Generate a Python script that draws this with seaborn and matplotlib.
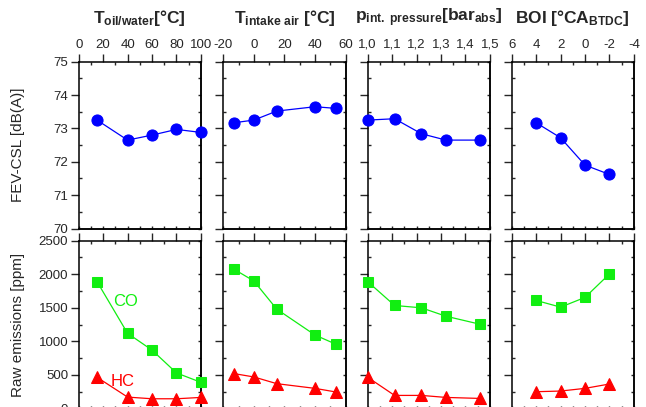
import matplotlib
matplotlib.use("Agg")
import matplotlib.pyplot as plt
import seaborn as sns
from matplotlib.ticker import MultipleLocator, FuncFormatter

# data
t_oil = [15, 40, 60, 80, 100]
fev_oil = [73.25, 72.65, 72.8, 72.97, 72.88]
co_oil = [1890, 1120, 870, 530, 390]
hc_oil = [465, 170, 145, 145, 165]

t_air = [-13, 0, 15, 40, 54]
fev_air = [73.17, 73.25, 73.52, 73.65, 73.6]
co_air = [2075, 1900, 1480, 1095, 955]
hc_air = [520, 470, 370, 300, 245]

p_int = [1.0, 1.11, 1.22, 1.32, 1.46]
fev_p = [73.25, 73.29, 72.84, 72.65, 72.65]
co_p = [1890, 1535, 1500, 1375, 1255]
hc_p = [465, 195, 195, 165, 150]

boi = [4, 2, 0, -2]
fev_boi = [73.17, 72.72, 71.9, 71.62]
co_boi = [1610, 1510, 1655, 2005]
hc_boi = [250, 260, 300, 365]

titles = [r"$\mathbf{T_{oil/water}[°C]}$",
          r"$\mathbf{T_{intake\ air}\ [°C]}$",
          r"$\mathbf{p_{int.\ pressure}[bar_{abs}]}$",
          r"$\mathbf{BOI\ [°CA_{BTDC}]}$"]

sns.set_style("white")
plt.rcParams["font.family"] = ["Liberation Sans", "DejaVu Sans"]
plt.rcParams["mathtext.fontset"] = "custom"
plt.rcParams["mathtext.rm"] = "Liberation Sans"
plt.rcParams["mathtext.bf"] = "Liberation Sans:bold"
plt.rcParams["mathtext.it"] = "Liberation Sans:italic"
plt.rcParams["axes.unicode_minus"] = False
plt.rcParams["axes.linewidth"] = 1.1
plt.rcParams["axes.edgecolor"] = "black"

blue = "#0000ff"
green = "#11ee11"
red = "#ff0000"

xs = [t_oil, t_air, p_int, boi]
fevs = [fev_oil, fev_air, fev_p, fev_boi]
cos = [co_oil, co_air, co_p, co_boi]
hcs = [hc_oil, hc_air, hc_p, hc_boi]
xlims = [(0, 100), (-20, 60), (1.0, 1.5), (6, -4)]
majors = [20, 20, 0.1, 2]
minors = [10, 10, 0.05, 1]

fig = plt.figure(figsize=(6.46, 4.07), dpi=100)
W, H = 646, 407
lefts = [78.7, 223.3, 367.7, 511.7]
pw = 122.2


def style(ax, i, show_top_labels, ymaj, ymin):
    ax.set_xlim(*xlims[i])
    ax.xaxis.set_major_locator(MultipleLocator(majors[i]))
    ax.xaxis.set_minor_locator(MultipleLocator(minors[i]))
    if i == 2:
        ax.xaxis.set_major_formatter(FuncFormatter(lambda v, p: f"{v:.1f}".replace(".", ",")))
    ax.yaxis.set_major_locator(MultipleLocator(ymaj))
    ax.yaxis.set_minor_locator(MultipleLocator(ymin))
    ax.xaxis.tick_top()
    ax.tick_params(axis="x", which="major", direction="out", length=5.5, width=1,
                   labeltop=show_top_labels, labelbottom=False, pad=2.5, labelsize=9.5)
    ax.tick_params(axis="x", which="minor", direction="in", length=2.5, width=1)
    ax.tick_params(axis="y", which="major", direction="out", length=5.5, width=1,
                   left=True, right=False, labelleft=(i == 0), pad=2, labelsize=9.5)
    ax.tick_params(axis="y", which="minor", direction="in", length=2.5, width=1,
                   left=True, right=False)
    sx = ax.secondary_xaxis("bottom")
    sx.xaxis.set_major_locator(MultipleLocator(majors[i]))
    sx.xaxis.set_minor_locator(MultipleLocator(minors[i]))
    sx.tick_params(which="both", direction="in", length=2.5, width=1, labelbottom=False)
    sy = ax.secondary_yaxis("right")
    sy.yaxis.set_major_locator(MultipleLocator(ymaj))
    sy.yaxis.set_minor_locator(MultipleLocator(ymin))
    sy.tick_params(which="both", direction="in", length=2.5, width=1, labelright=False)


for i in range(4):
    l = lefts[i] / W
    w = pw / W
    ax_t = fig.add_axes([l, 1 - 228.5 / H, w, (228.5 - 61.7) / H])
    ax_b = fig.add_axes([l, 1 - 408.5 / H, w, (408.5 - 240.7) / H])

    sns.lineplot(x=xs[i], y=fevs[i], ax=ax_t, color=blue, marker="o", markersize=8,
                 markeredgecolor=blue, linewidth=0.9, sort=False, clip_on=False, zorder=5)
    sns.lineplot(x=xs[i], y=cos[i], ax=ax_b, color=green, marker="s", markersize=7,
                 markeredgecolor=green, linewidth=0.9, sort=False, clip_on=False, zorder=5)
    sns.lineplot(x=xs[i], y=hcs[i], ax=ax_b, color=red, marker="^", markersize=9,
                 markeredgecolor=red, linewidth=0.9, sort=False, clip_on=False, zorder=5)

    ax_t.set_ylim(70, 75)
    ax_b.set_ylim(0, 2500)
    style(ax_t, i, True, 1, 0.5)
    style(ax_b, i, False, 500, 250)
    ax_t.set_xlabel("")
    ax_b.set_xlabel("")

    fig.text((lefts[i] + pw / 2) / W, 1 - 18 / H, titles[i], ha="center", va="center",
             fontsize=12.5)

    if i == 0:
        ax_t.set_ylabel("FEV-CSL [dB(A)]", fontsize=11)
        ax_t.yaxis.set_label_coords(-0.44, 0.5)
        ax_b.set_ylabel("Raw emissions [ppm]", fontsize=11)
        ax_b.yaxis.set_label_coords(-0.44, 0.5)
        ax_b.text(38, 1600, "CO", color=green, fontsize=12, ha="center", va="center")
        ax_b.text(36, 400, "HC", color=red, fontsize=12, ha="center", va="center")
    else:
        ax_t.set_ylabel("")
        ax_b.set_ylabel("")

fig.savefig("out.png", dpi=100)
